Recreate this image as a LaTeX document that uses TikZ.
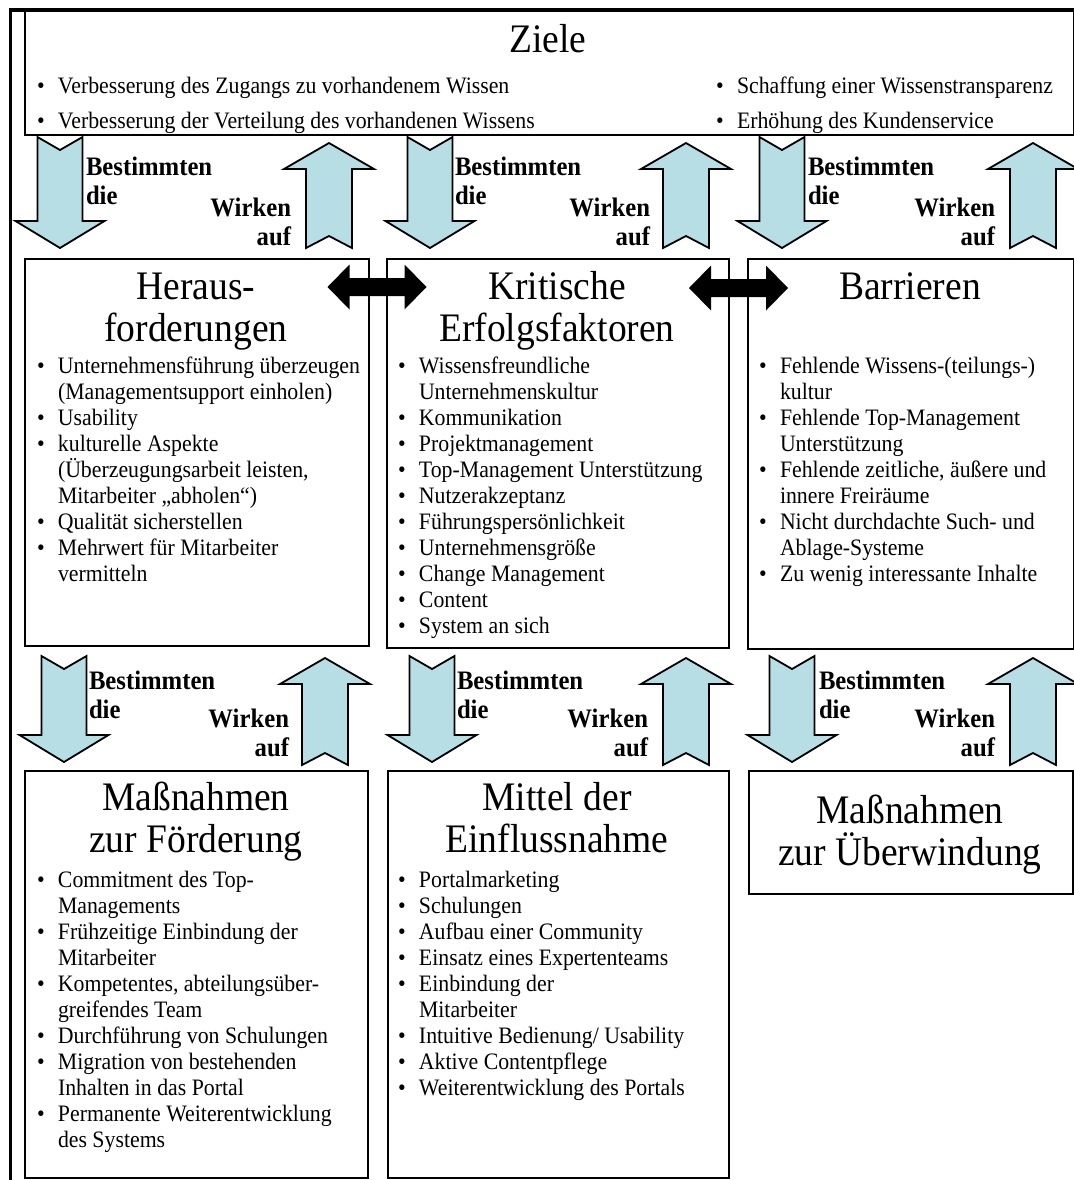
\documentclass[tikz,border=0pt]{standalone}
\usepackage{fontspec}
\setmainfont{Liberation Serif}
\usepackage{graphicx}
\definecolor{arrblue}{RGB}{183,222,228}
\newcommand\vst[1]{\scalebox{1}[1.08]{#1}}
\newcommand\bitem[1]{\par\noindent\hangindent=21bp\hangafter=1\makebox[21bp][l]{\textbullet}#1\par}
\newcommand\blist[2]{\vst{\parbox[t]{#1}{\raggedright\fontsize{21.8bp}{24.1bp}\selectfont #2}}}
\newcommand\ttl[1]{\vst{\parbox[t]{320bp}{\centering\fontsize{37.5bp}{39.8bp}\selectfont #1}}}
\newcommand\lbl[1]{\vst{\parbox[t]{130bp}{\raggedright\bfseries\fontsize{24.7bp}{27.5bp}\selectfont #1}}}
\newcommand\rbl[1]{\vst{\parbox[t]{130bp}{\raggedleft\bfseries\fontsize{24.7bp}{27.5bp}\selectfont #1}}}
\tikzset{
  box/.style={draw=black, line width=2bp, anchor=north west, inner sep=0pt},
  txt/.style={inner sep=0pt, outer sep=0pt},
  arrowfill/.style={draw=black, line width=1.8bp, fill=arrblue, line join=miter},
  pics/downarr/.style={code={
    \draw[arrowfill] (-22.5,0) -- (0,13) -- (22.5,0) -- (22.5,#1-27) -- (44.5,#1-27)
      -- (0,#1) -- (-44.5,#1-27) -- (-22.5,#1-27) -- cycle;}},
  pics/uparr/.style={code={
    \draw[arrowfill] (0,0) -- (45,26) -- (23,26) -- (23,#1) -- (0,#1-12)
      -- (-23,#1) -- (-23,26) -- (-45,26) -- cycle;}},
  pics/dblarr/.style={code={
    \fill[black] (-49.5,0) -- (-27.5,-22.5) -- (-27.5,-9) -- (27.5,-9) -- (27.5,-22.5)
      -- (49.5,0) -- (27.5,22.5) -- (27.5,9) -- (-27.5,9) -- (-27.5,22.5) -- cycle;}},
}
\begin{document}
\begin{tikzpicture}[x=1bp,y=-1bp]
\useasboundingbox (0,0) rectangle (1074,1180);
\fill[white] (0,0) rectangle (1074,1180);
% outer frame
\draw[line width=3.5bp] (10.5,1182) -- (10.5,10) -- (1076,10);
% boxes
\node[box, minimum width=1049bp, minimum height=124bp] (ziele) at (24,10) {};
\node[box, minimum width=344bp, minimum height=387bp] (heraus) at (24,258) {};
\node[box, minimum width=342bp, minimum height=389bp] (krit) at (386,258) {};
\node[box, minimum width=326bp, minimum height=390bp] (barr) at (747,258) {};
\node[box, minimum width=343bp, minimum height=407bp] (foerd) at (24,770) {};
\node[box, minimum width=341bp, minimum height=407bp] (mittel) at (387,770) {};
\node[box, minimum width=324bp, minimum height=123bp] (ueberw) at (748,770) {};
% titles
\node[txt, anchor=base] (tziele) at (548,52) {\ttl{Ziele}};
\node[txt, anchor=base] (theraus) at (196,299) {\ttl{Heraus-\\forderungen}};
\node[txt, anchor=base] (tkrit) at (557,299) {\ttl{Kritische\\Erfolgsfaktoren}};
\node[txt, anchor=base] (tbarr) at (910,299) {\ttl{Barrieren}};
\node[txt, anchor=base] (tfoerd) at (196,810) {\ttl{Maßnahmen\\zur Förderung}};
\node[txt, anchor=base] (tmittel) at (557,810) {\ttl{Mittel der\\Einflussnahme}};
\node[txt, anchor=base] (tueberw) at (910,823) {\ttl{Maßnahmen\\zur Überwindung}};
% Ziele bullets
\node[txt, anchor=base west] (z1) at (37,93) {\blist{500bp}{\bitem{Verbesserung des Zugangs zu vorhandenem Wissen}}};
\node[txt, anchor=base west] (z2) at (37,128) {\blist{530bp}{\bitem{Verbesserung der Verteilung des vorhandenen Wissens}}};
\node[txt, anchor=base west] (z3) at (716,93) {\blist{350bp}{\bitem{Schaffung einer Wissenstransparenz}}};
\node[txt, anchor=base west] (z4) at (716,128) {\blist{350bp}{\bitem{Erhöhung des Kundenservice}}};
% lists
\node[txt, anchor=base west] (lheraus) at (37,373) {\blist{330bp}{%
\bitem{Unternehmensführung überzeugen\newline (Managementsupport einholen)}%
\bitem{Usability}%
\bitem{kulturelle Aspekte\newline (Überzeugungsarbeit leisten,\newline Mitarbeiter „abholen“)}%
\bitem{Qualität sicherstellen}%
\bitem{Mehrwert für Mitarbeiter\newline vermitteln}}};
\node[txt, anchor=base west] (lkrit) at (398,373) {\blist{330bp}{%
\bitem{Wissensfreundliche\newline Unternehmenskultur}%
\bitem{Kommunikation}%
\bitem{Projektmanagement}%
\bitem{Top-Management Unterstützung}%
\bitem{Nutzerakzeptanz}%
\bitem{Führungspersönlichkeit}%
\bitem{Unternehmensgröße}%
\bitem{Change Management}%
\bitem{Content}%
\bitem{System an sich}}};
\node[txt, anchor=base west] (lbarr) at (759,373) {\blist{310bp}{%
\bitem{Fehlende Wissens-(teilungs-)\newline kultur}%
\bitem{Fehlende Top-Management\newline Unterstützung}%
\bitem{Fehlende zeitliche, äußere und\newline innere Freiräume}%
\bitem{Nicht durchdachte Such- und\newline Ablage-Systeme}%
\bitem{Zu wenig interessante Inhalte}}};
\node[txt, anchor=base west] (lfoerd) at (37,887) {\blist{330bp}{%
\bitem{Commitment des Top-\newline Managements}%
\bitem{Frühzeitige Einbindung der\newline Mitarbeiter}%
\bitem{Kompetentes, abteilungsüber-\newline greifendes Team}%
\bitem{Durchführung von Schulungen}%
\bitem{Migration von bestehenden\newline Inhalten in das Portal}%
\bitem{Permanente Weiterentwicklung\newline des Systems}}};
\node[txt, anchor=base west] (lmittel) at (398,887) {\blist{330bp}{%
\bitem{Portalmarketing}%
\bitem{Schulungen}%
\bitem{Aufbau einer Community}%
\bitem{Einsatz eines Expertenteams}%
\bitem{Einbindung der\newline Mitarbeiter}%
\bitem{Intuitive Bedienung/ Usability}%
\bitem{Aktive Contentpflege}%
\bitem{Weiterentwicklung des Portals}}};
% arrows row 1
\pic at (60,137) {downarr=111};
\pic at (430,137) {downarr=111};
\pic at (782,137) {downarr=111};
\pic at (329,143) {uparr=105};
\pic at (686,143) {uparr=105};
\pic at (1033,143) {uparr=105};
% arrows row 2
\pic at (64,656) {downarr=106};
\pic at (432,656) {downarr=106};
\pic at (792,656) {downarr=106};
\pic at (325,658) {uparr=107};
\pic at (686,658) {uparr=107};
\pic at (1033,658) {uparr=107};
% double arrows
\pic at (377,287) {dblarr};
\pic at (738.5,288) {dblarr};
% labels row 1
\node[txt, anchor=base west] (b1) at (86,175) {\lbl{Bestimmten\\die}};
\node[txt, anchor=base west] (b2) at (455,175) {\lbl{Bestimmten\\die}};
\node[txt, anchor=base west] (b3) at (808,175) {\lbl{Bestimmten\\die}};
\node[txt, anchor=base east] (w1) at (291,216) {\rbl{Wirken\\auf}};
\node[txt, anchor=base east] (w2) at (650,216) {\rbl{Wirken\\auf}};
\node[txt, anchor=base east] (w3) at (995,216) {\rbl{Wirken\\auf}};
% labels row 2
\node[txt, anchor=base west] (b4) at (89,689) {\lbl{Bestimmten\\die}};
\node[txt, anchor=base west] (b5) at (457,689) {\lbl{Bestimmten\\die}};
\node[txt, anchor=base west] (b6) at (819,689) {\lbl{Bestimmten\\die}};
\node[txt, anchor=base east] (w4) at (289,727) {\rbl{Wirken\\auf}};
\node[txt, anchor=base east] (w5) at (648,727) {\rbl{Wirken\\auf}};
\node[txt, anchor=base east] (w6) at (995,727) {\rbl{Wirken\\auf}};
\end{tikzpicture}
\end{document}
